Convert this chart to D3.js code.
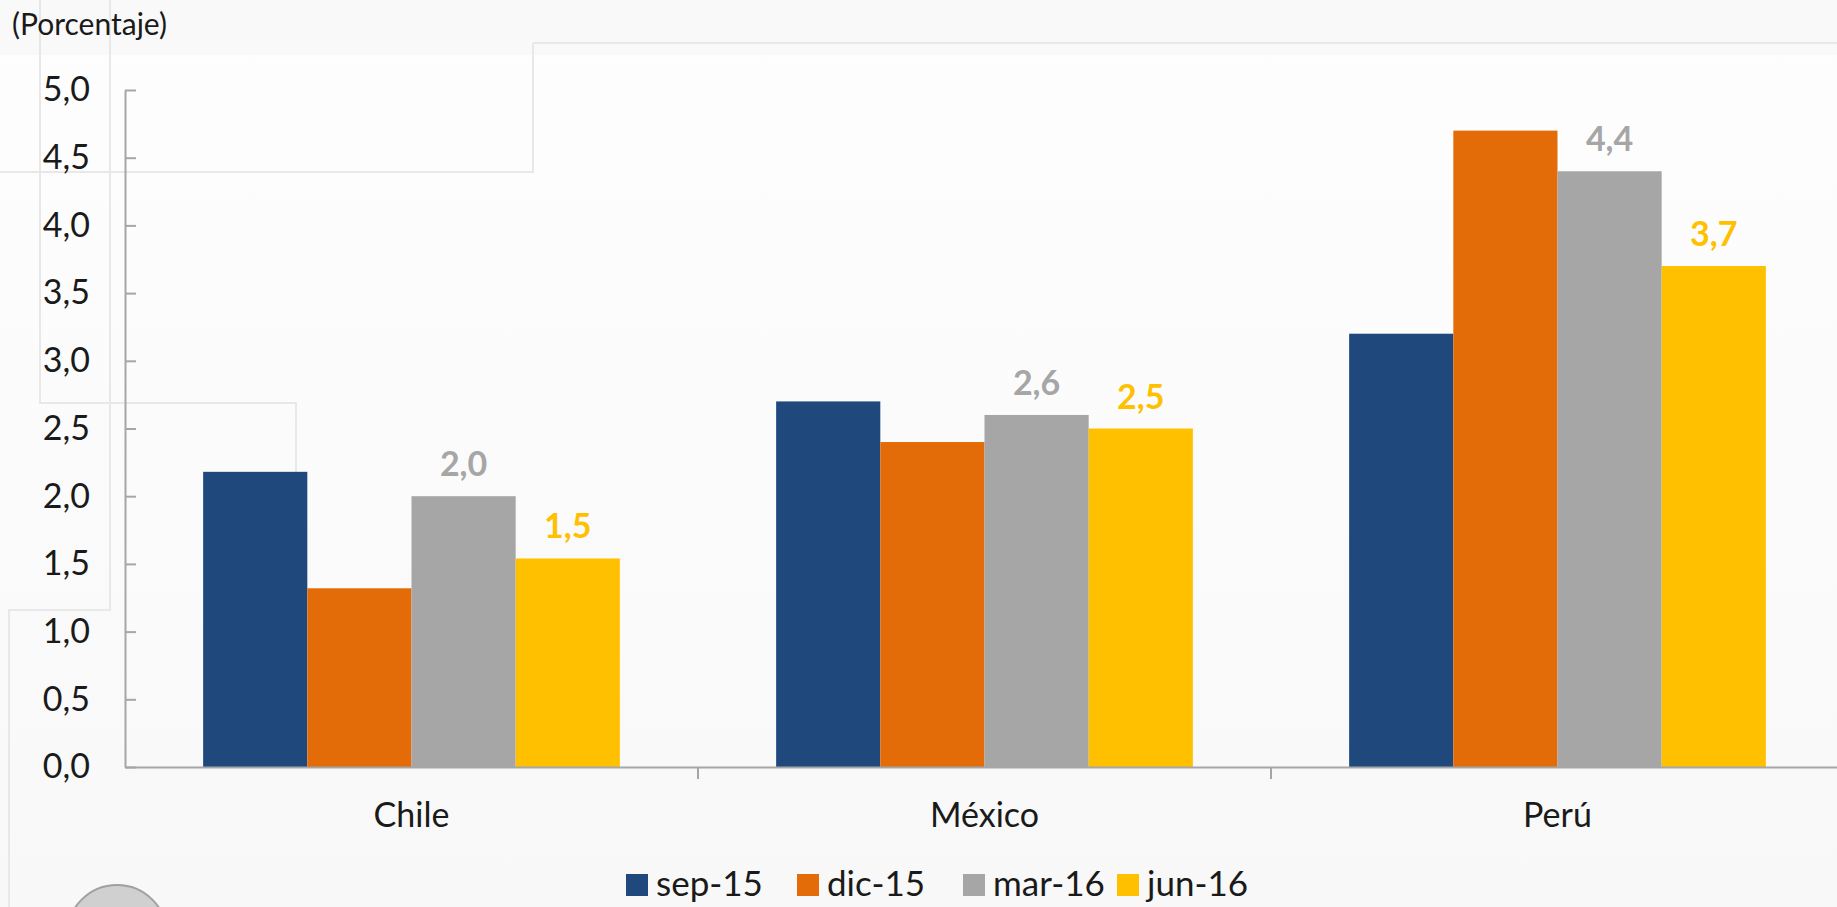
<!DOCTYPE html>
<html>
<head>
<meta charset="utf-8">
<script src="https://cdn.jsdelivr.net/npm/d3@7"></script>
<style>
  html, body { margin: 0; padding: 0; background: #fdfdfd; }
  svg { display: block; font-family: Lato, "Noto Sans", sans-serif; }
</style>
</head>
<body>
<div id="canvas"></div>
<script>
// data
const categories = ["Chile", "México", "Perú"];
const series = ["sep-15", "dic-15", "mar-16", "jun-16"];
const sep15 = [2.18, 2.7, 3.2];
const dic15 = [1.32, 2.4, 4.7];
const mar16 = [2.0, 2.6, 4.4];
const jun16 = [1.54, 2.5, 3.7];
const yTicks = [0, 0.5, 1, 1.5, 2, 2.5, 3, 3.5, 4, 4.5, 5];
const labelledSeries = ["mar-16", "jun-16"];

const colors = {"sep-15": "#1f497d", "dic-15": "#e36c09", "mar-16": "#a6a6a6", "jun-16": "#ffc000"};
const labelColors = {"mar-16": "#a6a6a6", "jun-16": "#ffc000"};

const rows = categories.map((c, i) => ({
    cat: c,
    values: [sep15[i], dic15[i], mar16[i], jun16[i]].map((v, j) => ({key: series[j], value: v}))
}));

const width = 1837;
const height = 907;
const margin = {top: 90, left: 125, bottom: 140, right: -7};
const iheight = height - margin.top - margin.bottom;

const svg = d3.select("#canvas").append("svg")
    .attr("width", width)
    .attr("height", height);

// background and slide decoration
const grad = svg.append("defs").append("linearGradient")
    .attr("id", "bg").attr("x1", 0).attr("x2", 0).attr("y1", 0).attr("y2", 1);
grad.append("stop").attr("offset", "0%").attr("stop-color", "#fefefe");
grad.append("stop").attr("offset", "100%").attr("stop-color", "#f8f8f8");
svg.append("rect").attr("width", width).attr("height", height).attr("fill", "url(#bg)");
svg.append("rect").attr("width", width).attr("height", 55).attr("fill", "#f9f9f9");

const deco = svg.append("g").attr("fill", "none").attr("stroke", "#e8e8e8").attr("stroke-width", 2);
[
  "M533,43 H1837", "M533,43 V172 H0",
  "M40,0 V403 H296 V520",
  "M110,0 V610 H9 V907"
].forEach(p => deco.append("path").attr("d", p));
svg.append("circle").attr("cx", 117).attr("cy", 935).attr("r", 50)
    .attr("fill", "#d0d0d0").attr("stroke", "#a0a0a0").attr("stroke-width", 2);

// scales
const x0 = d3.scaleBand()
    .domain(categories)
    .range([margin.left, 1844]);

const x1 = d3.scaleBand()
    .domain(series)
    .range([0, x0.bandwidth()])
    .paddingInner(0)
    .paddingOuter(0.75);

const y = d3.scaleLinear()
    .domain([0, 5])
    .range([margin.top + iheight, margin.top]);

const fmt = d => d.toFixed(1).replace(".", ",");

// bars
const groups = svg.selectAll("g.cat").data(rows).enter().append("g")
    .attr("class", "cat")
    .attr("transform", d => `translate(${x0(d.cat)},0)`);

groups.selectAll("rect").data(d => d.values).enter().append("rect")
    .attr("x", d => x1(d.key))
    .attr("y", d => y(d.value))
    .attr("width", x1.bandwidth())
    .attr("height", d => y(0) - y(d.value))
    .attr("fill", d => colors[d.key]);

groups.selectAll("text.lbl").data(d => d.values.filter(v => labelledSeries.includes(v.key)))
    .enter().append("text")
    .attr("class", "lbl")
    .attr("x", d => x1(d.key) + x1.bandwidth() / 2)
    .attr("y", d => y(d.value) - 20)
    .attr("text-anchor", "middle")
    .attr("font-size", 34)
    .attr("font-weight", "bold")
    .attr("fill", d => labelColors[d.key])
    .text(d => fmt(d.value));

// y axis
const yAxis = svg.append("g")
    .attr("transform", `translate(${margin.left},0)`)
    .call(d3.axisLeft(y).tickValues(yTicks).tickFormat(fmt).tickSizeInner(-11).tickSizeOuter(0).tickPadding(35));
yAxis.select(".domain").attr("stroke", "#a6a6a6").attr("stroke-width", 2);
yAxis.selectAll(".tick line").attr("stroke", "#a6a6a6").attr("stroke-width", 2);
yAxis.selectAll(".tick text").attr("font-size", 34).attr("fill", "#1a1a1a").attr("font-family", "Lato, sans-serif");

// x axis
const xAxis = svg.append("g")
    .attr("transform", `translate(0,${y(0)})`)
    .call(d3.axisBottom(x0).tickSize(0).tickPadding(36));
xAxis.select(".domain").attr("stroke", "#a6a6a6").attr("stroke-width", 2);
xAxis.selectAll(".tick text").attr("font-size", 34).attr("fill", "#1a1a1a").attr("font-family", "Lato, sans-serif");
xAxis.selectAll("line.sep").data(categories.slice(1)).enter().append("line")
    .attr("class", "sep")
    .attr("x1", d => x0(d)).attr("x2", d => x0(d))
    .attr("y1", 0).attr("y2", 12)
    .attr("stroke", "#a6a6a6").attr("stroke-width", 2);

// title
svg.append("text")
    .attr("x", 12).attr("y", 35)
    .attr("font-size", 30)
    .attr("fill", "#1a1a1a")
    .text("(Porcentaje)");

// legend
const legendX = [626, 797, 963, 1117];
const legend = svg.append("g");
const items = legend.selectAll("g").data(series).enter().append("g")
    .attr("transform", (d, i) => `translate(${legendX[i]},874)`);
items.append("rect").attr("width", 22).attr("height", 22).attr("fill", d => colors[d]);
items.append("text").attr("x", 30).attr("y", 22)
    .attr("font-size", 35).attr("fill", "#1a1a1a")
    .text(d => d);
</script>
</body>
</html>
